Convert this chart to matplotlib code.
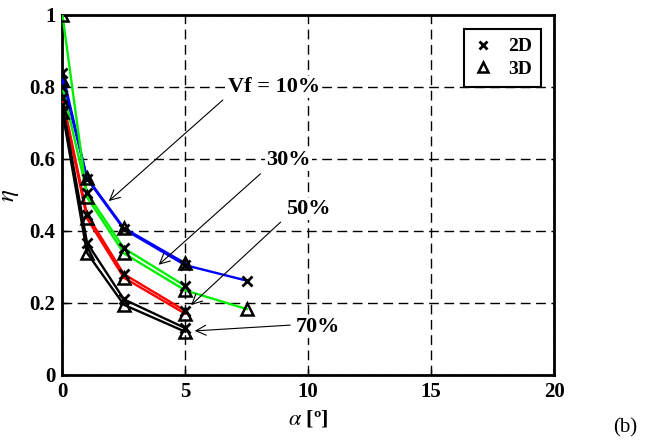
import matplotlib
matplotlib.use("Agg")
import matplotlib.pyplot as plt
from matplotlib.lines import Line2D

plt.rcParams['font.family'] = ['Liberation Serif', 'DejaVu Serif']
plt.rcParams['mathtext.fontset'] = 'stix'

# inclination angle [deg]
alpha_long = [0, 1, 2.5, 5, 7.5]
alpha_short = [0, 1, 2.5, 5]

# efficiency for each fibre volume fraction, 2D and 3D models
blue_2d = [0.84, 0.545, 0.405, 0.305, 0.262]
blue_3d = [0.82, 0.548, 0.408, 0.31]
green_2d = [0.80, 0.505, 0.352, 0.247]
green_3d = [1.0, 0.494, 0.338, 0.235, 0.183]
red_2d = [0.77, 0.445, 0.28, 0.178]
red_3d = [0.76, 0.435, 0.27, 0.17]
black_2d = [0.75, 0.367, 0.21, 0.13]
black_3d = [0.73, 0.339, 0.195, 0.12]

vf_labels = ['Vf = 10%', '30%', '50%', '70%']

fig = plt.figure(figsize=(6.46, 4.41), dpi=100)
ax = fig.add_axes([0.0967, 0.1497, 0.7609, 0.8163])

series = [
    (alpha_long, blue_2d, alpha_short, blue_3d, '#0000ff'),
    (alpha_short, green_2d, alpha_long, green_3d, '#00ee00'),
    (alpha_short, red_2d, alpha_short, red_3d, '#ff0000'),
    (alpha_short, black_2d, alpha_short, black_3d, 'black'),
]
for x2, y2, x3, y3, c in series:
    ax.plot(x2, y2, color=c, lw=1.7, zorder=3)
    ax.plot(x3, y3, color=c, lw=1.7, zorder=3)
    ax.plot(x2, y2, ls='none', marker='x', ms=7, mew=2, color='black', zorder=4)
    ax.plot(x3, y3, ls='none', marker='^', ms=8, mew=1.8, mfc='none',
            mec='black', zorder=4)

# labels and arrows
txt_pos = [(8.60, 0.80), (9.19, 0.597), (10.0, 0.461), (10.41, 0.133)]
arrow_from = [(6.61, 0.769), (8.14, 0.564), (8.96, 0.43), (9.38, 0.139)]
arrow_to = [(1.80, 0.478), (3.83, 0.301), (5.15, 0.189), (5.27, 0.122)]
for lab, tp, a0, a1 in zip(vf_labels, txt_pos, arrow_from, arrow_to):
    ax.annotate('', xy=a1, xytext=a0,
                arrowprops=dict(arrowstyle='->', lw=0.8, color='black',
                                mutation_scale=18), zorder=5)
    ax.text(tp[0], tp[1], lab, ha='center', va='center', fontsize=16,
            fontweight='bold', zorder=6,
            bbox=dict(fc='white', ec='none', pad=1))

ax.set_xlim(0, 20)
ax.set_ylim(0, 1)
ax.set_xticks([0, 5, 10, 15, 20])
ax.set_yticks([0, 0.2, 0.4, 0.6, 0.8, 1])
ax.set_yticklabels(['0', '0.2', '0.4', '0.6', '0.8', '1'])
ax.tick_params(direction='in', length=4, width=1, labelsize=15, pad=5)
for lab in ax.get_xticklabels() + ax.get_yticklabels():
    lab.set_fontweight('bold')
ax.grid(True, color='black', ls=(0, (7, 4)), lw=1.0)
for sp in ax.spines.values():
    sp.set_linewidth(2)

ax.set_xlabel(r'$\alpha$ [º]', fontsize=16, fontweight='bold', labelpad=5)
ax.set_ylabel(r'$\eta$', fontsize=18, rotation=90, labelpad=6)

handles = [
    Line2D([], [], ls='none', marker='x', ms=5.5, mew=2, color='black'),
    Line2D([], [], ls='none', marker='^', ms=6.5, mew=1.8, mfc='none', mec='black'),
]
leg = ax.legend(handles, ['2D', '3D'], loc='upper right', fancybox=False,
                framealpha=1, edgecolor='black', handlelength=1,
                handletextpad=0.8, borderpad=0.45, labelspacing=0.25,
                prop={'weight': 'bold', 'size': 14},
                bbox_to_anchor=(0.993, 0.988))
leg.get_frame().set_linewidth(1.5)
leg.set_zorder(7)

fig.text(0.968, 0.008, '(b)', fontsize=15, ha='center', va='bottom')

fig.savefig('out.png', dpi=100)
